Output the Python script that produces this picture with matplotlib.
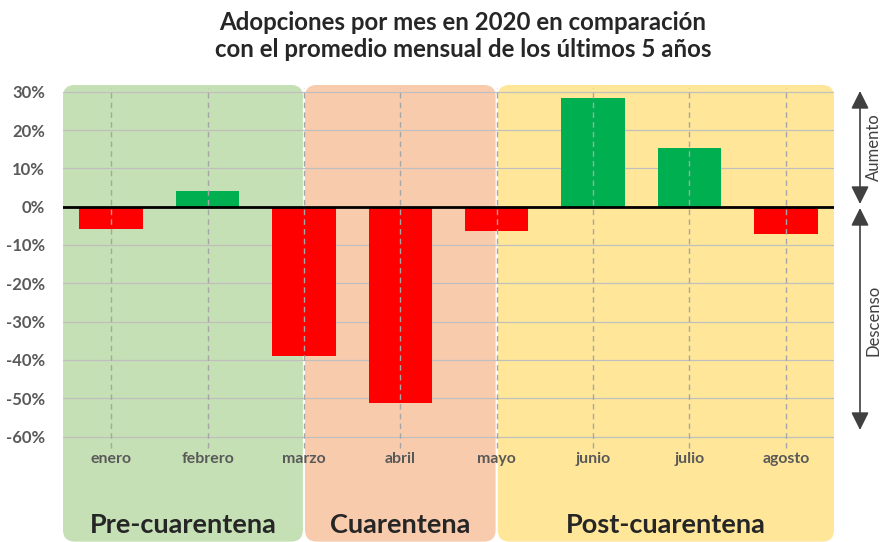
import matplotlib
matplotlib.use('Agg')
import matplotlib.pyplot as plt
from matplotlib.patches import FancyBboxPatch, FancyArrowPatch

plt.rcParams['font.family'] = ['Lato', 'DejaVu Sans']

# Datos
meses = ['enero', 'febrero', 'marzo', 'abril', 'mayo', 'junio', 'julio', 'agosto']
variacion = [-0.058, 0.040, -0.389, -0.513, -0.063, 0.284, 0.154, -0.071]
periodos = ['Pre-cuarentena', 'Cuarentena', 'Post-cuarentena']
periodo_limites = [(-0.5, 2), (2, 4), (4, 7.5)]
periodo_colores = ['#C5E0B4', '#F8CBAD', '#FFE699']
y_ticks = [0.3, 0.2, 0.1, 0.0, -0.1, -0.2, -0.3, -0.4, -0.5, -0.6]

GRIS = '#595959'
VERDE = '#00B050'
ROJO = '#FF0000'

fig = plt.figure(figsize=(8.83, 5.42), dpi=100)
W, H = 883, 542
ax = fig.add_axes([63 / W, 0, (834 - 63) / W, (542 - 84.6) / H])
ax.set_xlim(-0.5, 7.5)
ax.set_ylim(-0.875, 0.3185)
for s in ax.spines.values():
    s.set_visible(False)
ax.set_xticks([])

# Fondos por periodo (esquinas redondeadas)
gap = 0.011
for (x0, x1), col, i in zip(periodo_limites, periodo_colores, range(3)):
    a = x0 + (gap if i > 0 else 0)
    b = x1 - (gap if i < 2 else 0)
    box = FancyBboxPatch((a, -0.874), b - a, 0.3175 + 0.874,
                         boxstyle='round,pad=0,rounding_size=0.12',
                         mutation_aspect=0.25,
                         facecolor=col, edgecolor='none', zorder=0)
    ax.add_patch(box)

# Rejilla horizontal
for t in y_ticks:
    ax.axhline(t, color='#BFBFBF', linewidth=0.9, zorder=1)

# Barras
x = list(range(len(meses)))
colores = [VERDE if v >= 0 else ROJO for v in variacion]
ax.bar(x, variacion, width=0.66, color=colores, zorder=2)

# Lineas verticales discontinuas
ax.vlines(x, -0.63, 0.31, colors='#A6A6A6', linestyles=(0, (4, 3)),
          linewidth=1.0, zorder=3)

ax.axhline(0, color='black', linewidth=2, zorder=4)

# Eje Y
ax.set_yticks(y_ticks)
ax.set_yticklabels([f'{int(round(t * 100))}%' for t in y_ticks])
ax.tick_params(axis='y', length=0, pad=13, labelsize=12, labelcolor=GRIS)
for lab in ax.get_yticklabels():
    lab.set_fontweight('bold')

# Etiquetas de mes
for i, m in enumerate(meses):
    ax.text(i, -0.658, m, ha='center', va='center', fontsize=11.4,
            fontweight='bold', color=GRIS, zorder=5)

# Etiquetas de periodo
for (x0, x1), nombre in zip(periodo_limites, periodos):
    ax.text((x0 + x1) / 2, -0.83, nombre, ha='center', va='center',
            fontsize=19.5, fontweight='bold', color='#262626', zorder=5)

# Titulo
fig.text(463 / W, 1 - 36 / H,
         'Adopciones por mes en 2020 en comparación\ncon el promedio mensual de los últimos 5 años',
         ha='center', va='center', fontsize=17.3, fontweight='bold',
         color='#262626', linespacing=1.25)

# Flechas de la derecha
ax_x = 860 / W
flecha = dict(arrowstyle='<|-|>,head_length=0.6,head_width=0.3',
              color='#404040', linewidth=1.2, mutation_scale=18,
              shrinkA=0, shrinkB=0)
fig.add_artist(FancyArrowPatch((ax_x, 1 - 91 / H), (ax_x, 1 - 204 / H),
                               transform=fig.transFigure, **flecha))
fig.add_artist(FancyArrowPatch((ax_x, 1 - 208 / H), (ax_x, 1 - 430 / H),
                               transform=fig.transFigure, **flecha))
fig.text(874 / W, 1 - 147 / H, 'Aumento', rotation=90, ha='center', va='center',
         fontsize=12, color='#404040')
fig.text(874 / W, 1 - 320 / H, 'Descenso', rotation=90, ha='center', va='center',
         fontsize=12, color='#404040')

fig.savefig('out.png', dpi=100, facecolor='white')
